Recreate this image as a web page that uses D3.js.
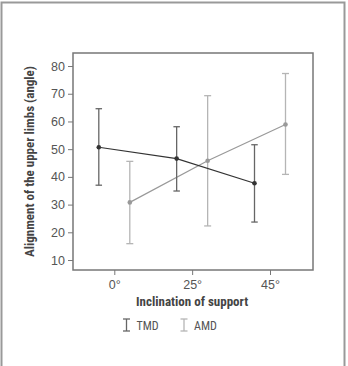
<!DOCTYPE html>
<html>
<head>
<meta charset="utf-8">
<script src="https://cdn.jsdelivr.net/npm/d3@7"></script>
<style>
  body { margin: 0; background: #fff; }
  svg { display: block; font-family: "Liberation Sans Narrow", "Roboto Condensed", "Liberation Sans", sans-serif; }
</style>
</head>
<body>
<svg id="chart"></svg>
<script>
// inclination categories
const categories = ['0°', '25°', '45°'];
// group means with error bar limits (lower, upper)
const tmdMean = [50.7, 46.6, 37.7];
const tmdLow = [37.0, 34.9, 23.7];
const tmdHigh = [64.6, 58.1, 51.6];
const amdMean = [30.8, 45.8, 58.9];
const amdLow = [15.9, 22.3, 40.9];
const amdHigh = [45.6, 69.3, 77.3];
const yTicks = [10, 20, 30, 40, 50, 60, 70, 80];

const W = 348, H = 366;
const margin = {top: 53, left: 73, right: 35, bottom: 96};
const width = W - margin.left - margin.right;
const height = H - margin.top - margin.bottom;

const svg = d3.select('#chart').attr('width', W).attr('height', H);

// outer frame
svg.append('rect')
  .attr('x', 1.5).attr('y', 2.5)
  .attr('width', 343).attr('height', 370)
  .attr('fill', 'none').attr('stroke', '#999').attr('stroke-width', 2);

const chart = svg.append('g')
  .attr('transform', `translate(${margin.left},${margin.top})`);

const xScale = d3.scalePoint()
  .domain(categories)
  .range([41.3, 197])
  .padding(0);

const yScale = d3.scaleLinear()
  .domain([6.4, 84.7])
  .range([height, 0]);

const offset = 15.5;

// axes
const xAxis = d3.axisBottom(xScale).tickSize(5).tickPadding(5);
const yAxis = d3.axisLeft(yScale).tickValues(yTicks).tickSize(5).tickPadding(3);

const xGroup = chart.append('g')
  .attr('transform', `translate(0,${height})`)
  .call(xAxis);
const yGroup = chart.append('g').call(yAxis);

[xGroup, yGroup].forEach(g => {
  g.select('.domain').remove();
  g.selectAll('.tick line').attr('stroke', '#777');
  g.selectAll('.tick text').attr('fill', '#555').style('font-size', '12.5px');
});

// plot box
chart.append('rect')
  .attr('x', 0).attr('y', 0)
  .attr('width', width).attr('height', height)
  .attr('fill', 'none').attr('stroke', '#777').attr('stroke-width', 1.5);

// axis titles
chart.append('text')
  .attr('x', xScale('25°'))
  .attr('y', height + 36)
  .attr('text-anchor', 'middle')
  .attr('fill', '#444')
  .style('font-size', '13px')
  .style('font-weight', 'bold')
  .text('Inclination of support');

chart.append('text')
  .attr('transform', `translate(${-39},${height / 2}) rotate(-90)`)
  .attr('text-anchor', 'middle')
  .attr('fill', '#444')
  .style('font-size', '13px')
  .style('font-weight', 'bold')
  .text('Alignment of the upper limbs (angle)');

function drawSeries(mean, low, high, dx, lineColor, barColor, capW) {
  const pts = categories.map((c, i) => ({x: xScale(c) + dx, m: mean[i], lo: low[i], hi: high[i]}));
  const g = chart.append('g');
  g.selectAll('.err').data(pts).join('line')
    .attr('x1', d => d.x).attr('x2', d => d.x)
    .attr('y1', d => yScale(d.lo)).attr('y2', d => yScale(d.hi))
    .attr('stroke', barColor).attr('stroke-width', 1.3);
  [d => d.lo, d => d.hi].forEach(f => {
    g.selectAll(null).data(pts).join('line')
      .attr('x1', d => d.x - capW / 2).attr('x2', d => d.x + capW / 2)
      .attr('y1', d => yScale(f(d))).attr('y2', d => yScale(f(d)))
      .attr('stroke', barColor).attr('stroke-width', 1.3);
  });
  g.append('path').datum(pts)
    .attr('d', d3.line().x(d => d.x).y(d => yScale(d.m)))
    .attr('fill', 'none').attr('stroke', lineColor).attr('stroke-width', 1.2);
  g.selectAll('.pt').data(pts).join('circle')
    .attr('cx', d => d.x).attr('cy', d => yScale(d.m))
    .attr('r', 2.3).attr('fill', lineColor);
}

drawSeries(amdMean, amdLow, amdHigh, offset, '#999', '#b5b5b5', 7);
drawSeries(tmdMean, tmdLow, tmdHigh, -offset, '#333', '#666', 6.5);

// legend
const legend = [
  {name: 'TMD', color: '#666', x: 126.5},
  {name: 'AMD', color: '#b5b5b5', x: 184}
];
const lg = svg.selectAll('.legend').data(legend).join('g')
  .attr('transform', d => `translate(${d.x},325)`);
lg.append('line').attr('x1', 0).attr('x2', 0).attr('y1', -6).attr('y2', 6)
  .attr('stroke', d => d.color).attr('stroke-width', 1.3);
lg.append('line').attr('x1', -3.5).attr('x2', 3.5).attr('y1', -6).attr('y2', -6)
  .attr('stroke', d => d.color).attr('stroke-width', 1.3);
lg.append('line').attr('x1', -3.5).attr('x2', 3.5).attr('y1', 6).attr('y2', 6)
  .attr('stroke', d => d.color).attr('stroke-width', 1.3);
lg.append('text').attr('x', 10).attr('y', 4.5)
  .attr('fill', '#555').style('font-size', '12px')
  .text(d => d.name);
</script>
</body>
</html>
